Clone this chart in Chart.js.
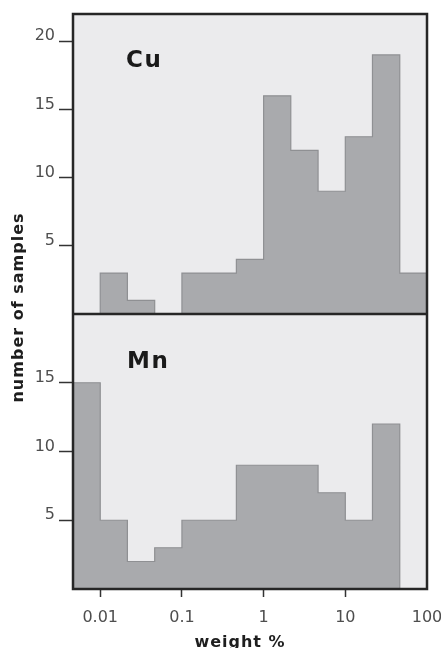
<!DOCTYPE html>
<html>
<head>
<meta charset="utf-8">
<script src="https://cdn.jsdelivr.net/npm/chart.js@4.4.1/dist/chart.umd.min.js"></script>
<style>
  html, body { margin: 0; padding: 0; background: #ffffff; }
  #wrap { width: 441px; height: 648px; }
</style>
</head>
<body>
<div id="wrap"><canvas id="c" width="441" height="648"></canvas></div>
<script>
// ---- data ----
const binEdges = [0.00464, 0.01, 0.0215, 0.0464, 0.1, 0.215, 0.464, 1, 2.15, 4.64, 10, 21.5, 46.4, 100];
const cuCounts = [0, 3, 1, 0, 3, 3, 4, 16, 12, 9, 13, 19, 3];
const mnCounts = [15, 5, 2, 3, 5, 5, 9, 9, 9, 7, 5, 12, 0];
const xTickValues = [0.01, 0.1, 1, 10, 100];
const cuTickValues = [5, 10, 15, 20];
const mnTickValues = [5, 10, 15];
const panelLabels = ['Cu', 'Mn'];
const xTitle = 'weight %';
const yTitle = 'number of samples';

function stepData(counts) {
  return binEdges.map((e, i) => ({ x: e, y: i < counts.length ? counts[i] : counts[counts.length - 1] }));
}

const FONT = '"DejaVu Sans", sans-serif';
const tickColor = '#4e4e4e';
const frameColor = '#262626';

const bgPlugin = {
  id: 'bg',
  beforeDraw(chart) {
    const { ctx, chartArea: a } = chart;
    ctx.save();
    ctx.fillStyle = '#ebebed';
    ctx.fillRect(a.left, a.top, a.right - a.left, a.bottom - a.top);
    ctx.restore();
  },
  afterDraw(chart) {
    const { ctx, chartArea: a } = chart;
    const yCu = chart.scales.yCu;
    const yMn = chart.scales.yMn;
    ctx.save();
    ctx.strokeStyle = frameColor;
    ctx.lineWidth = 2.5;
    ctx.strokeRect(a.left, a.top, a.right - a.left, a.bottom - a.top);
    ctx.beginPath();
    ctx.moveTo(a.left, yCu.bottom);
    ctx.lineTo(a.right, yCu.bottom);
    ctx.stroke();

    // panel labels
    ctx.fillStyle = '#1a1a1a';
    ctx.font = 'bold 23px ' + FONT;
    ctx.letterSpacing = '1.5px';
    ctx.textAlign = 'left';
    ctx.textBaseline = 'alphabetic';
    ctx.fillText(panelLabels[0], a.left + 53, yCu.top + 53);
    ctx.fillText(panelLabels[1], a.left + 54, yMn.top + 54);

    // axis titles
    ctx.font = 'bold 16px ' + FONT;
    ctx.letterSpacing = '1px';
    ctx.fillStyle = '#1e1e1e';
    ctx.textAlign = 'center';
    ctx.fillText(xTitle, (a.left + a.right) / 2 - 10, 646.5);
    ctx.translate(22.5, (a.top + a.bottom) / 2 + 6);
    ctx.rotate(-Math.PI / 2);
    ctx.fillText(yTitle, 0, 0);
    ctx.restore();
  }
};

const yCommon = {
  type: 'linear',
  position: 'left',
  stack: 'panels',
  border: { display: false },
  grid: { drawOnChartArea: false, drawTicks: true, tickLength: 14, tickWidth: 1.5, tickColor: '#333' },
  ticks: { font: { family: FONT, size: 16 }, color: tickColor, padding: 4, labelOffset: -5 },
  afterFit(s) { s.width = 73; }
};

new Chart(document.getElementById('c'), {
  type: 'line',
  data: {
    datasets: [
      {
        label: panelLabels[0],
        data: stepData(cuCounts),
        yAxisID: 'yCu',
        stepped: 'before',
        fill: 'origin',
        backgroundColor: '#a9aaad',
        borderColor: '#8f9093',
        borderWidth: 1.2,
        pointRadius: 0
      },
      {
        label: panelLabels[1],
        data: stepData(mnCounts),
        yAxisID: 'yMn',
        stepped: 'before',
        fill: 'origin',
        backgroundColor: '#a9aaad',
        borderColor: '#8f9093',
        borderWidth: 1.2,
        pointRadius: 0
      }
    ]
  },
  options: {
    responsive: false,
    animation: false,
    events: [],
    layout: { padding: { top: 14, right: 14, left: 0, bottom: 0 } },
    plugins: { legend: { display: false }, tooltip: { enabled: false } },
    scales: {
      x: {
        type: 'logarithmic',
        min: binEdges[0],
        max: binEdges[binEdges.length - 1],
        border: { display: false },
        grid: {
          drawOnChartArea: false, drawTicks: true, tickLength: 8, tickWidth: 1.5,
          tickColor: (c) => (c.tick && c.tick.value === 100 ? 'rgba(0,0,0,0)' : '#333')
        },
        ticks: {
          font: { family: FONT, size: 16 }, color: tickColor, padding: 11, maxRotation: 0, autoSkip: false,
          callback: (v) => String(v)
        },
        afterBuildTicks(s) { s.ticks = xTickValues.map(v => ({ value: v })); },
        afterFit(s) { s.height = 59; s.paddingLeft = 0; s.paddingRight = 0; }
      },
      yMn: Object.assign({}, yCommon, {
        min: 0, max: 20, stackWeight: 275,
        afterBuildTicks(s) { s.ticks = mnTickValues.map(v => ({ value: v })); }
      }),
      yCu: Object.assign({}, yCommon, {
        min: 0, max: 22, stackWeight: 300,
        afterBuildTicks(s) { s.ticks = cuTickValues.map(v => ({ value: v })); }
      })
    }
  },
  plugins: [bgPlugin]
});
</script>
</body>
</html>
